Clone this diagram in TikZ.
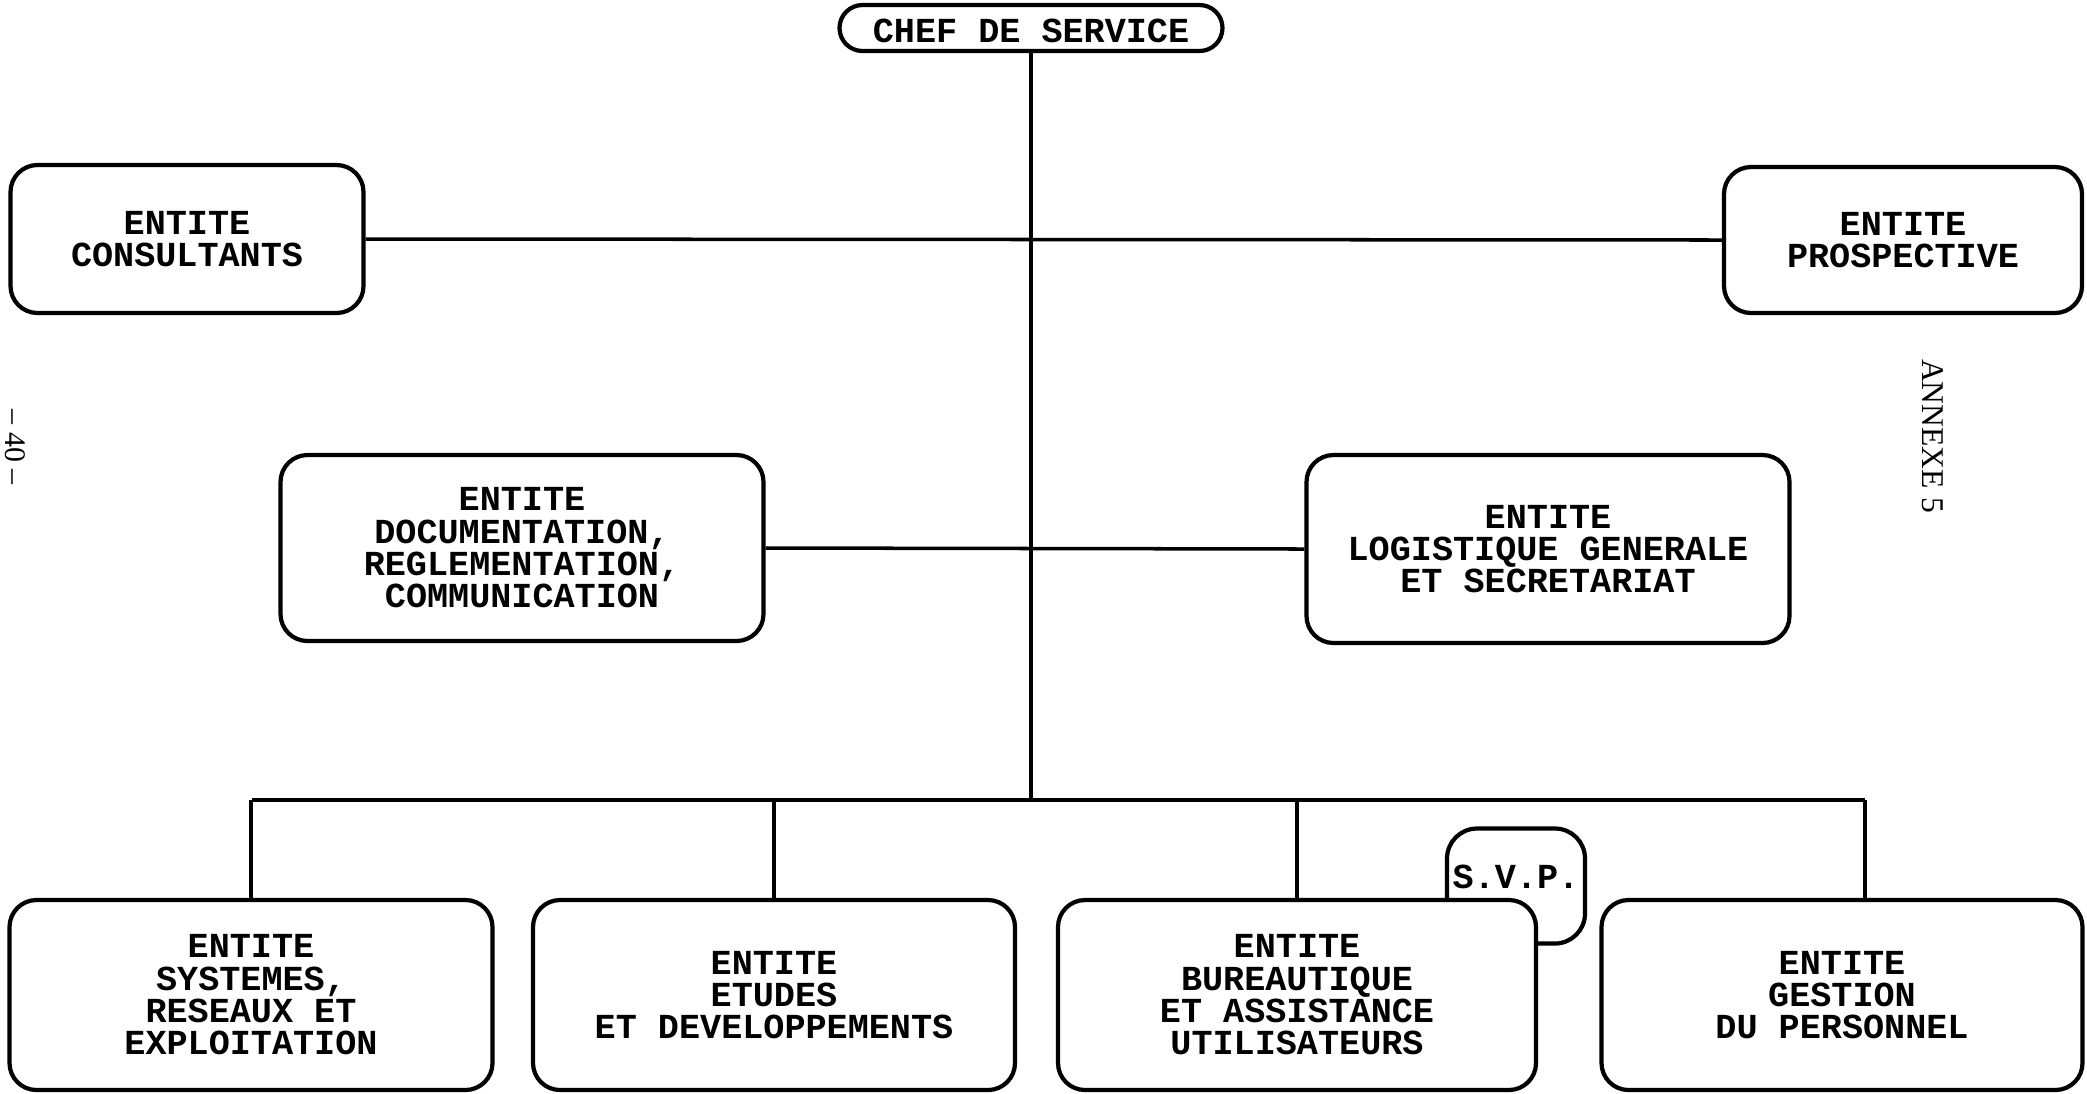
\documentclass[tikz,border=0pt]{standalone}
\usepackage{fontspec}
\newfontfamily\dotfont{Liberation Mono}
\newfontfamily\typefont{Liberation Serif}
\begin{document}
\begin{tikzpicture}[line width=1pt,
  ent/.style={draw, rectangle, rounded corners=0.27cm, line width=1.2pt, fill=white, align=center, inner sep=0pt,
    font=\dotfont\bfseries\fontsize{10}{9.2}\selectfont},
  margin/.style={inner sep=0pt, rotate=-90, font=\typefont\fontsize{9}{10}\selectfont}]
\useasboundingbox (0,0) rectangle (20.87,-10.93);
\node[ent, minimum width=3.83cm, minimum height=0.46cm, rounded corners=0.23cm, text height=0.3cm] (chef) at (10.31,-0.28) {CHEF DE SERVICE};
\node[ent, minimum width=3.53cm, minimum height=1.48cm] (cons) at (1.87,-2.39) {ENTITE\\CONSULTANTS};
\node[ent, minimum width=3.58cm, minimum height=1.46cm] (pros) at (19.03,-2.40) {ENTITE\\PROSPECTIVE};
\node[ent, minimum width=4.83cm, minimum height=1.86cm] (doc) at (5.22,-5.48) {ENTITE\\DOCUMENTATION,\\REGLEMENTATION,\\COMMUNICATION};
\node[ent, minimum width=4.83cm, minimum height=1.88cm] (log) at (15.48,-5.49) {ENTITE\\LOGISTIQUE GENERALE\\ET SECRETARIAT};
\node[ent, minimum width=1.38cm, minimum height=1.15cm, rounded corners=0.3cm, text height=0.2cm, text depth=0.16cm] (svp) at (15.16,-8.86) {S.V.P.};
\node[ent, minimum width=4.83cm, minimum height=1.90cm] (sys) at (2.51,-9.95) {ENTITE\\SYSTEMES,\\RESEAUX ET\\EXPLOITATION};
\node[ent, minimum width=4.82cm, minimum height=1.90cm] (etu) at (7.74,-9.95) {ENTITE\\ETUDES\\ET DEVELOPPEMENTS};
\node[ent, minimum width=4.78cm, minimum height=1.90cm] (bur) at (12.97,-9.95) {ENTITE\\BUREAUTIQUE\\ET ASSISTANCE\\UTILISATEURS};
\node[ent, minimum width=4.81cm, minimum height=1.90cm] (gest) at (18.42,-9.95) {ENTITE\\GESTION\\DU PERSONNEL};
\coordinate (busl) at (2.52,-8.00);
\coordinate (busr) at (18.65,-8.00);
\draw (chef.south) -- (chef.south |- busl);
\draw (cons.east) -- (pros.west);
\draw (doc.east) -- (log.west);
\draw (busl) -- (busr);
\draw (sys.north) -- (sys.north |- busl);
\draw (etu.north) -- (etu.north |- busl);
\draw (bur.north) -- (bur.north |- busl);
\draw (busr) -- (busr |- gest.north);
\node[margin] (annexe) at (19.33,-4.36) {ANNEXE 5};
\node[margin, font=\typefont\fontsize{8.5}{10}\selectfont] (page) at (0.15,-4.47) {– 40 –};
\end{tikzpicture}
\end{document}
